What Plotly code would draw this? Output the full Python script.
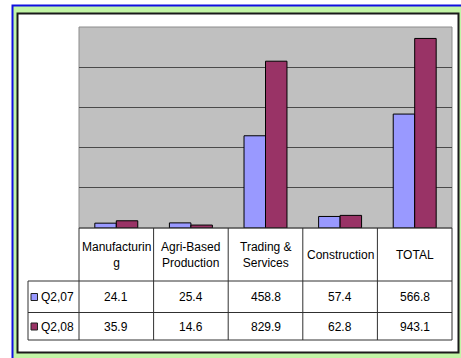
import plotly.graph_objects as go

categories = ["Manufacturing", "Agri-Based Production", "Trading & Services", "Construction", "TOTAL"]
header_labels = ["Manufacturin<br>g", "Agri-Based<br>Production", "Trading &<br>Services", "Construction", "TOTAL"]
series_names = ["Q2,07", "Q2,08"]
q2_07 = [24.1, 25.4, 458.8, 57.4, 566.8]
q2_08 = [35.9, 14.6, 829.9, 62.8, 943.1]
series_values = [q2_07, q2_08]
series_colors = ["#9999FF", "#993366"]

W, H = 461, 358
L, R, T, B = 79, 452, 27, 228  # plot area in pixels


def px(x):
    return (x - L) / (R - L)


def py(y):
    return (B - y) / (B - T)


FONT = "Liberation Sans, Arial, sans-serif"

fig = go.Figure()
for name, vals, col in zip(series_names, series_values, series_colors):
    fig.add_trace(go.Bar(
        x=categories, y=vals, name=name,
        marker=dict(color=col, line=dict(color="#000000", width=1)),
        hoverinfo="skip",
    ))

shapes = []
# outer green frame with blue border
shapes.append(dict(type="rect", xref="paper", yref="paper", layer="below",
                   x0=px(12.5), x1=px(475), y0=py(5.5), y1=py(375),
                   line=dict(color="#1010E0", width=2), fillcolor="#C2F5A6"))
# inner white panel with black border
shapes.append(dict(type="rect", xref="paper", yref="paper", layer="below",
                   x0=px(17.5), x1=px(458.5), y0=py(13.5), y1=py(352.5),
                   line=dict(color="#1a1a1a", width=2), fillcolor="#FFFFFF"))
# plot area (grey wall)
shapes.append(dict(type="rect", xref="paper", yref="paper", layer="below",
                   x0=0, x1=1, y0=0, y1=1,
                   line=dict(color="#8c8c8c", width=1), fillcolor="#C0C0C0"))

# data table grid
n = len(categories)
tl = dict(color="#303030", width=1)
row_lines = [281, 312.5, 340]
left_px = 28
for y in row_lines:
    shapes.append(dict(type="line", xref="paper", yref="paper",
                       x0=px(left_px), x1=1, y0=py(y), y1=py(y), line=tl))
shapes.append(dict(type="line", xref="paper", yref="paper",
                   x0=0, x1=1, y0=0, y1=0, line=tl))
shapes.append(dict(type="line", xref="paper", yref="paper",
                   x0=px(left_px), x1=px(left_px), y0=py(281), y1=py(340), line=tl))
for i in range(n + 1):
    shapes.append(dict(type="line", xref="paper", yref="paper",
                       x0=i / n, x1=i / n, y0=0, y1=py(340), line=tl))

annotations = []
fnt = dict(family=FONT, size=12, color="#000000")
for cat, lab in zip(categories, header_labels):
    annotations.append(dict(x=cat, xref="x", y=py(254.5), yref="paper", text=lab,
                            showarrow=False, font=fnt, xanchor="center", yanchor="middle"))
row_centers = [297, 326.5]
for rc, name, vals, col in zip(row_centers, series_names, series_values, series_colors):
    for cat, v in zip(categories, vals):
        annotations.append(dict(x=cat, xref="x", y=py(rc), yref="paper", text=f"{v:.1f}",
                                showarrow=False, font=fnt, xanchor="center", yanchor="middle"))
    annotations.append(dict(x=px(39), xref="paper", y=py(rc), yref="paper", text=name,
                            showarrow=False, font=fnt, xanchor="left", yanchor="middle"))
    shapes.append(dict(type="rect", xref="paper", yref="paper",
                       x0=px(31), x1=px(37.5), y0=py(rc - 3.5), y1=py(rc + 3.5),
                       line=dict(color="#202020", width=1), fillcolor=col))

fig.update_layout(
    width=W, height=H,
    margin=dict(l=L, r=W - R, t=T, b=H - B, pad=0),
    paper_bgcolor="#FFFFFF", plot_bgcolor="#C0C0C0",
    barmode="group", bargap=0.424, bargroupgap=0,
    showlegend=False,
    xaxis=dict(type="category", range=[-0.5, n - 0.5], showticklabels=False,
               showgrid=False, zeroline=False, showline=False, fixedrange=True),
    yaxis=dict(range=[0, 1000], dtick=200, tick0=0, showticklabels=False,
               showgrid=True, gridcolor="#4a4a4a", gridwidth=1,
               zeroline=False, showline=False, fixedrange=True),
    shapes=shapes, annotations=annotations,
)

fig.write_html("out.html")
